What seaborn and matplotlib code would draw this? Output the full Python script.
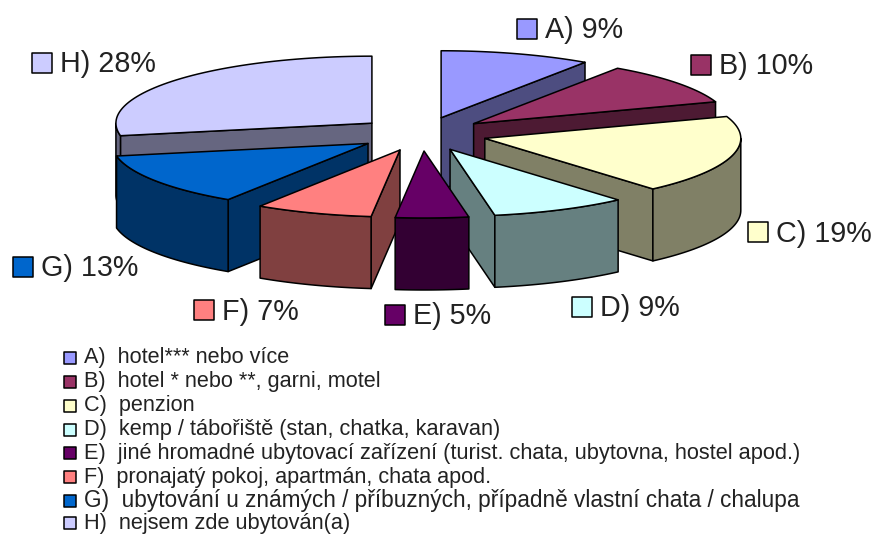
import numpy as np
import pandas as pd
import seaborn as sns
import matplotlib.pyplot as plt

# data
letters = ['A', 'B', 'C', 'D', 'E', 'F', 'G', 'H']
shares = [9.5, 10.2, 18.9, 8.6, 4.6, 7.4, 12.8, 28.0]
shown_pct = [9, 10, 19, 9, 5, 7, 13, 28]
colors = ['#9999FF', '#993366', '#FFFFCC', '#CCFFFF', '#660066', '#FF8080', '#0066CC', '#CCCCFF']
legend_text = [
    'A)  hotel*** nebo více',
    'B)  hotel * nebo **, garni, motel',
    'C)  penzion',
    'D)  kemp / tábořiště (stan, chatka, karavan)',
    'E)  jiné hromadné ubytovací zařízení (turist. chata, ubytovna, hostel apod.)',
    'F)  pronajatý pokoj, apartmán, chata apod.',
    'G)  ubytování u známých / příbuzných, případně vlastní chata / chalupa',
    'H)  nejsem zde ubytován(a)',
]

# layout in pixels
label_x = [527, 701, 758, 582, 395, 204, 23, 42]
label_y = [29, 65, 232, 307, 315, 310, 267, 63]
legend_y = [358, 382, 406, 430, 453, 477, 501, 523]
legend_size = [15.6, 15.6, 15.6, 15.7, 15.7, 15.6, 16.3, 15.7]
cx, cy = 422, 134
rx, ry = 256, 67
ex, ey = 65, 17
depth = 72

sns.set_theme(style='white')
plt.rcParams['font.family'] = ['Liberation Sans', 'DejaVu Sans']

fig = plt.figure(figsize=(8.76, 5.34), dpi=100)
ax = fig.add_axes([0, 0, 1, 1])
ax.set_xlim(0, 876)
ax.set_ylim(534, 0)
ax.axis('off')


def rim(a, x0, y0):
    return x0 + rx * np.sin(a), y0 - ry * np.cos(a)


def darker(c):
    return tuple(v * 0.5 for v in plt.matplotlib.colors.to_rgb(c))


def face(xs, ys, c):
    ax.fill(xs, ys, facecolor=c, edgecolor='black', linewidth=1.1, joinstyle='round')


df = pd.DataFrame({'letter': letters, 'share': shares, 'color': colors})
df['end'] = np.radians(df['share'].cumsum() / df['share'].sum() * 360)
df['start'] = df['end'] - np.radians(df['share'] / df['share'].sum() * 360)
df['mid'] = (df['start'] + df['end']) / 2

# back slices first
for _, s in df.sort_values('mid', key=lambda m: -np.cos(m)).iterrows():
    x0 = cx + ex * np.sin(s['mid'])
    y0 = cy - ey * np.cos(s['mid'])
    dark = darker(s['color'])

    # side walls that face the viewer
    if np.sin(s['start']) < 0:
        x1, y1 = rim(s['start'], x0, y0)
        face([x0, x1, x1, x0], [y0, y1, y1 + depth, y0 + depth], dark)
    if np.sin(s['end']) > 0:
        x1, y1 = rim(s['end'], x0, y0)
        face([x0, x1, x1, x0], [y0, y1, y1 + depth, y0 + depth], dark)

    # outer wall
    lo = max(s['start'], np.pi / 2)
    hi = min(s['end'], 3 * np.pi / 2)
    if hi > lo:
        t = np.linspace(lo, hi, 40)
        xa, ya = rim(t, x0, y0)
        face(np.r_[xa, xa[::-1]], np.r_[ya, ya[::-1] + depth], dark)

    # top
    t = np.linspace(s['start'], s['end'], 60)
    xa, ya = rim(t, x0, y0)
    face(np.r_[x0, xa], np.r_[y0, ya], s['color'])

# labels around the pie
sns.scatterplot(x=label_x, y=label_y, hue=letters, palette=colors, marker='s', s=190,
                edgecolor='black', linewidth=1.1, legend=False, ax=ax, zorder=5)
for x, y, l, v in zip(label_x, label_y, letters, shown_pct):
    ax.text(x + 18, y + 1.5, f'{l}) {v}%', fontsize=20.7, color='#222222', va='center', ha='left')

# legend below
sns.scatterplot(x=[70] * 8, y=legend_y, hue=letters, palette=colors, marker='s', s=85,
                edgecolor='black', linewidth=1.1, legend=False, ax=ax, zorder=5)
for y, t, fs in zip(legend_y, legend_text, legend_size):
    ax.text(84, y, t, fontsize=fs, color='#222222', va='center', ha='left')

fig.savefig('out.png', dpi=100)
